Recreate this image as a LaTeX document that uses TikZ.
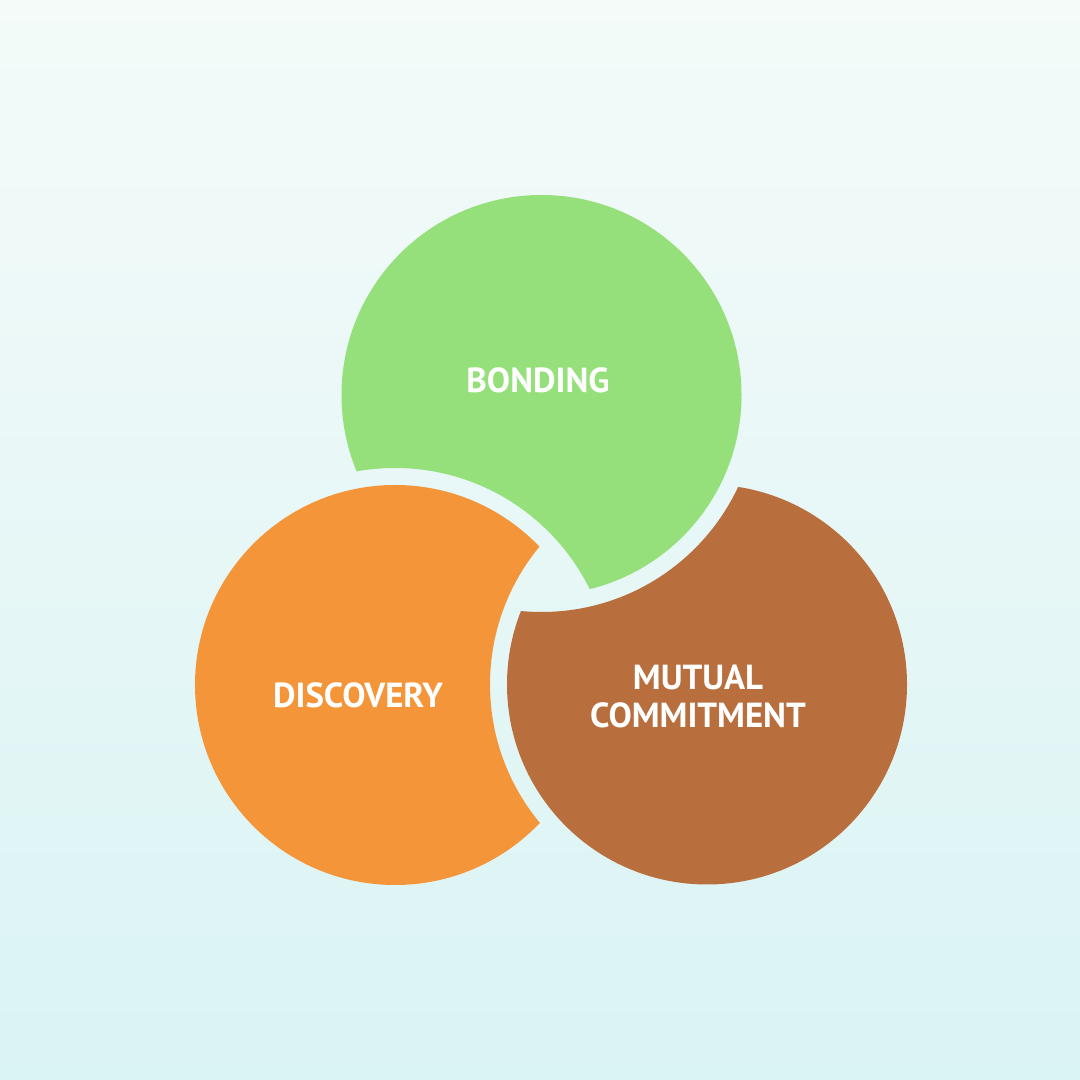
\documentclass[tikz,border=0pt]{standalone}
\usepackage{fontspec}
\setmainfont{PT Sans}
\definecolor{bgtop}{HTML}{F4FBF9}
\definecolor{bgbottom}{HTML}{DAF3F4}
\definecolor{bondgreen}{HTML}{95E07A}
\definecolor{discorange}{HTML}{F4953A}
\definecolor{commitbrown}{HTML}{B96E3D}

\begin{document}
\begin{tikzpicture}[
    circlelabel/.style={text=white, font=\bfseries\fontsize{9.9}{10.8}\selectfont, align=center}
  ]
        % Background
        \shade[top color=bgtop, bottom color=bgbottom] (0,0) rectangle (10.8,10.8);
        \useasboundingbox (0,0) rectangle (10.8,10.8);

        % Circle centres
        \coordinate (G) at (5.415,6.85);
        \coordinate (O) at (3.95,3.95);
        \coordinate (B) at (7.07,3.955);

        % Bonding circle, cut by the discovery circle
        \begin{scope}[even odd rule]
            \clip (0,0) rectangle (10.8,10.8) (O) circle (2.17);
            \fill[bondgreen] (G) circle (2);
        \end{scope}

        % Discovery circle, cut by the commitment circle
        \begin{scope}[even odd rule]
            \clip (0,0) rectangle (10.8,10.8) (B) circle (2.17);
            \fill[discorange] (O) circle (2);
        \end{scope}

        % Commitment circle, cut by the bonding circle
        \begin{scope}[even odd rule]
            \clip (0,0) rectangle (10.8,10.8) (G) circle (2.17);
            \fill[commitbrown] (B) circle (2);
        \end{scope}

        % Labels
        \node[circlelabel] (bonding) at (5.38,7.0) {BONDING};
        \node[circlelabel] (discovery) at (3.58,3.85) {DISCOVERY};
        \node[circlelabel] (commitment) at (6.98,3.835) {MUTUAL\\COMMITMENT};
    \end{tikzpicture}
\end{document}
